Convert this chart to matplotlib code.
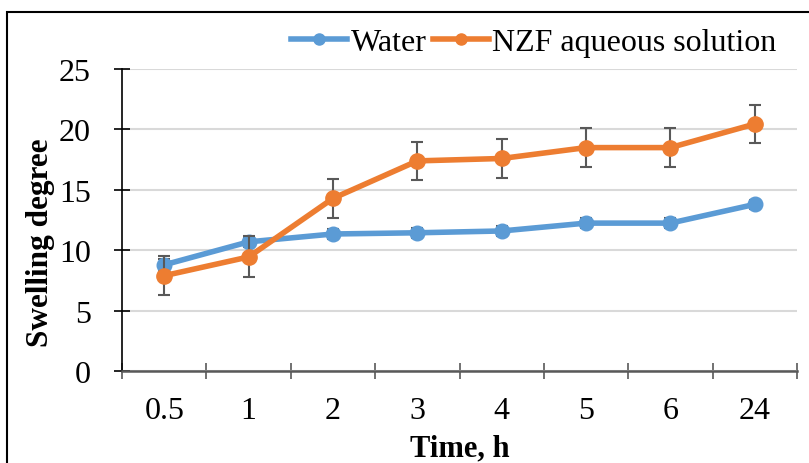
import matplotlib
matplotlib.use("Agg")
import matplotlib.pyplot as plt
from matplotlib.patches import Rectangle
from matplotlib.lines import Line2D

categories = ["0.5", "1", "2", "3", "4", "5", "6", "24"]
water = [8.8, 10.7, 11.35, 11.45, 11.6, 12.25, 12.25, 13.8]
water_err = [0.5, 0.4, 0.4, 0.4, 0.4, 0.4, 0.4, 0.4]
nzf = [7.9, 9.45, 14.3, 17.4, 17.6, 18.5, 18.5, 20.45]
nzf_err = [1.6, 1.7, 1.6, 1.6, 1.6, 1.6, 1.6, 1.6]
yticks = [0, 5, 10, 15, 20, 25]

plt.rcParams['font.family'] = ['Liberation Serif', 'DejaVu Serif']
FS = 23

fig = plt.figure(figsize=(8.09, 4.64), dpi=100)
ax = fig.add_axes([0.151, 0.198, 0.834, 0.651])

x = list(range(len(categories)))
blue = '#5B9BD5'
orange = '#ED7D31'
errc = '#595959'

ax.errorbar(x, water, yerr=water_err, color=blue, lw=4, marker='o', ms=10.5,
            ecolor=errc, elinewidth=1.5, capsize=4.5, capthick=1.5, zorder=3)
ax.errorbar(x, nzf, yerr=nzf_err, color=orange, lw=4, marker='o', ms=11,
            ecolor=errc, elinewidth=1.5, capsize=4.5, capthick=1.5, zorder=4)

ax.set_xlim(-0.5, len(categories) - 0.5)
ax.set_ylim(0, 25)
ax.set_yticks(yticks)
ax.set_yticklabels([str(v) for v in yticks], fontsize=FS)
ax.set_xticks([i + 0.5 for i in range(-1, len(categories))])
ax.set_xticklabels([])
ax.set_xticks(x, minor=True)
ax.set_xticklabels(categories, minor=True, fontsize=FS)
ax.tick_params(axis='x', which='minor', length=0, pad=18)
ax.tick_params(axis='x', which='major', direction='inout', length=11, width=1.2, color='#595959')
ax.tick_params(axis='y', direction='inout', length=11, width=1.2, color='black', pad=17)

ax.grid(axis='y', color='#d9d9d9', lw=1.5, zorder=0)
ax.set_axisbelow(True)
for s in ['top', 'right']:
    ax.spines[s].set_visible(False)
ax.spines['left'].set_color('black')
ax.spines['left'].set_linewidth(1.2)
ax.spines['bottom'].set_color('#595959')
ax.spines['bottom'].set_linewidth(1.8)

ax.set_ylabel('Swelling degree', fontsize=22.5, fontweight='bold', va='center')
ax.yaxis.set_label_coords(-0.1215, 0.427)
ax.set_xlabel('Time, h', fontsize=22, fontweight='bold', labelpad=6)

handles = [Line2D([], [], color=blue, lw=4, marker='o', ms=8),
           Line2D([], [], color=orange, lw=4, marker='o', ms=8)]
ax.legend(handles, ['Water', 'NZF aqueous solution'], loc='center',
          bbox_to_anchor=(0.61, 1.0 + (70 - 43) / 302.0),
          bbox_transform=ax.transAxes, ncol=2, frameon=False, fontsize=FS,
          handlelength=1.75, handletextpad=0.1, columnspacing=0.2,
          borderaxespad=0)

fig.patches.append(Rectangle((7 / 809, -0.1), 1.2, 1 - 13 / 464 + 0.1,
                             transform=fig.transFigure, fill=False,
                             edgecolor='black', lw=1.5))

fig.savefig('out.png', dpi=100)
